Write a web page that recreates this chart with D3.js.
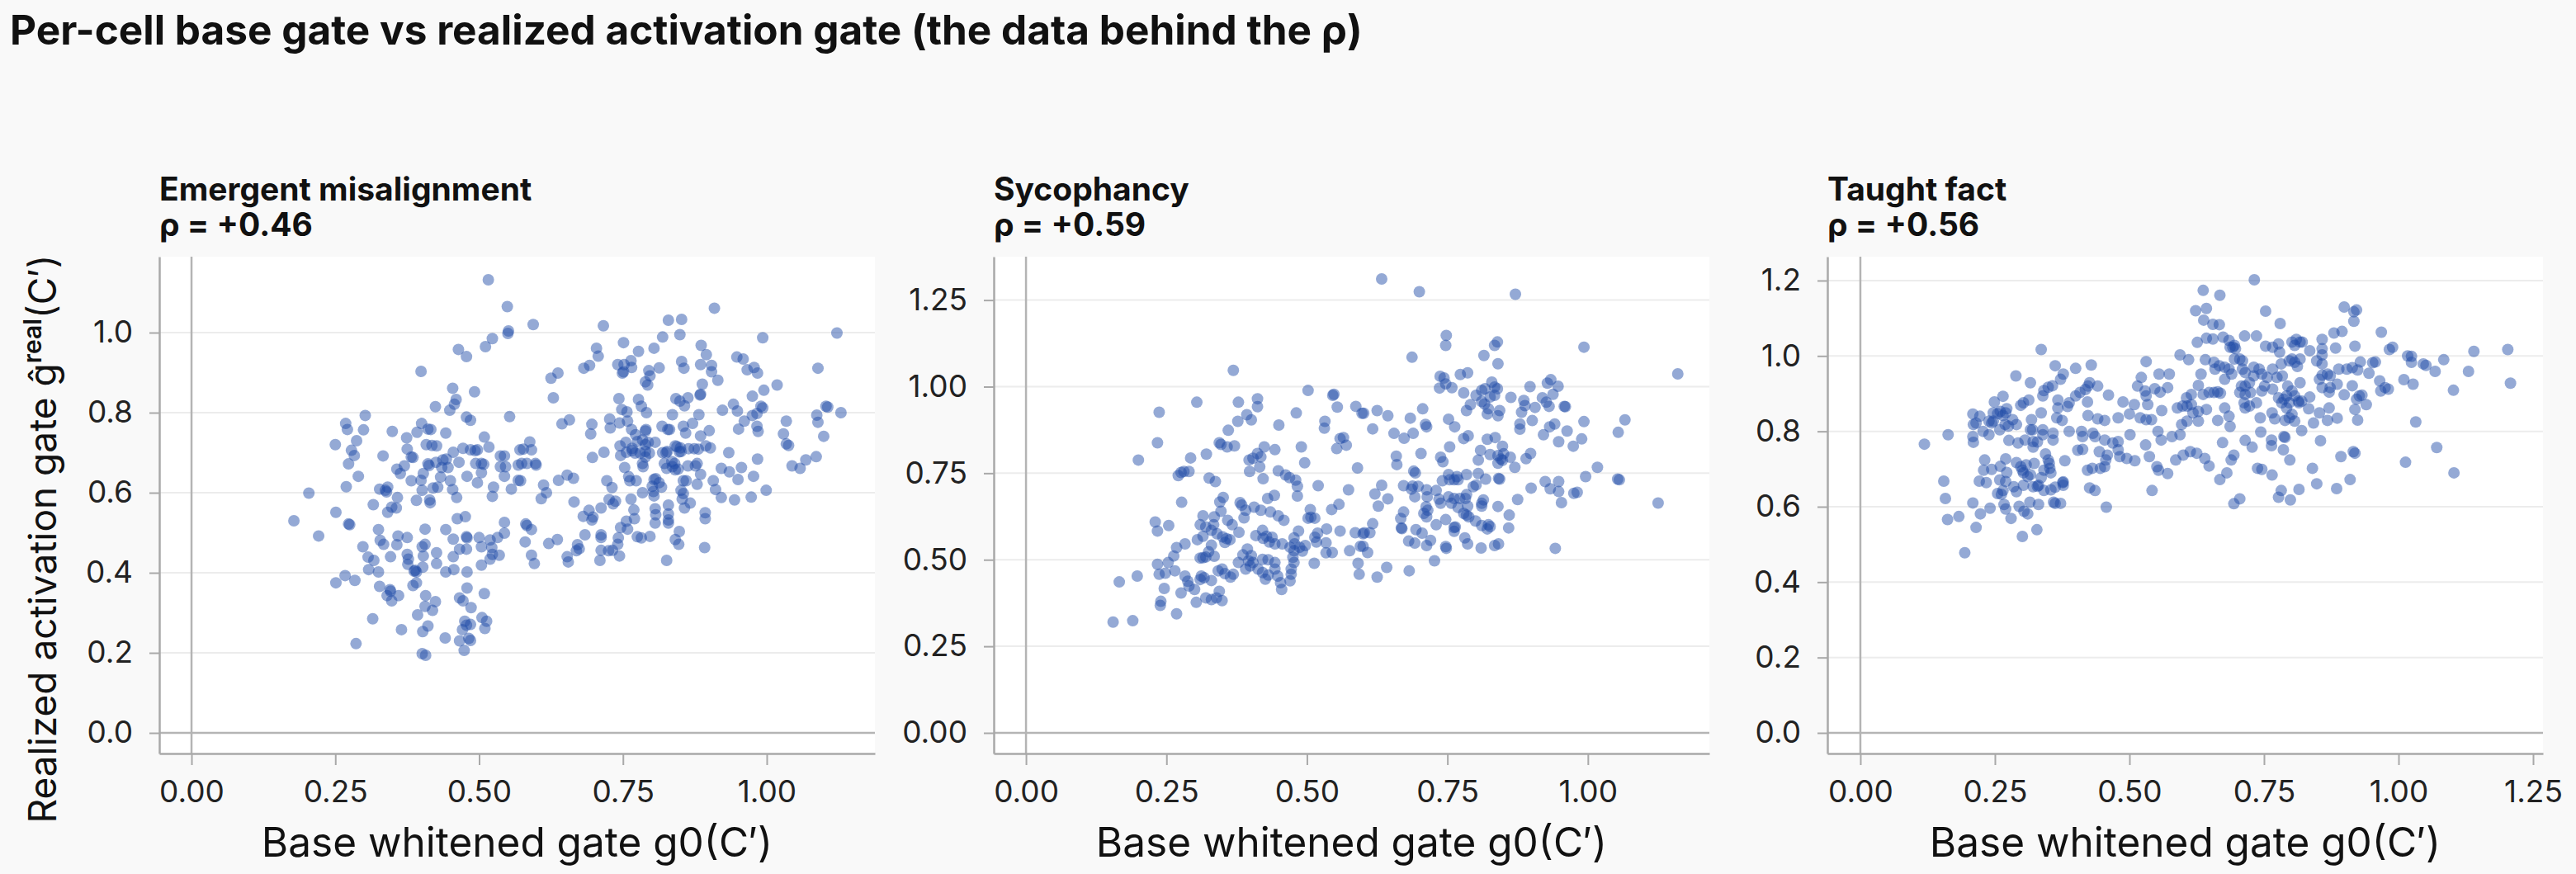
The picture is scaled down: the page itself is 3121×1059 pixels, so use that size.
<!DOCTYPE html>
<html>
<head>
<meta charset="utf-8">
<script src="https://cdn.jsdelivr.net/npm/d3@7"></script>
<style>
  html, body { margin: 0; padding: 0; background: #f9f9f9; }
  text { font-family: Inter, "Noto Sans", sans-serif; }
</style>
</head>
<body>
<script>
// ---------------- DATA ----------------
const chartTitle = "Per-cell base gate vs realized activation gate (the data behind the ρ)";
const panelTitles = ["Emergent misalignment", "Sycophancy", "Taught fact"];
const rhoLabels = ["ρ = +0.46", "ρ = +0.59", "ρ = +0.56"];
const xAxisTitle = "Base whitened gate g0(C′)";
const xTicks = [[0, 0.25, 0.5, 0.75, 1.0], [0, 0.25, 0.5, 0.75, 1.0], [0, 0.25, 0.5, 0.75, 1.0, 1.25]];
const yTicks = [[0, 0.2, 0.4, 0.6, 0.8, 1.0], [0, 0.25, 0.5, 0.75, 1.0, 1.25], [0, 0.2, 0.4, 0.6, 0.8, 1.0, 1.2]];
const xTickFormats = [".2f", ".2f", ".2f"];
const yTickFormats = [".1f", ".2f", ".1f"];
const xDomains = [[-0.056, 1.188], [-0.0574, 1.2162], [-0.0613, 1.2684]];
const yDomains = [[-0.0515, 1.1897], [-0.0596, 1.3754], [-0.0547, 1.2634]];

const emergentPoints = [
[0.516,1.132],[0.549,1.065],[0.550,0.998],[0.551,1.004],[0.523,0.985],[0.511,0.965],[0.464,0.958],[0.478,0.940],[0.399,0.903],[0.454,0.861],
[0.492,0.852],[0.460,0.833],[0.457,0.821],[0.449,0.806],[0.424,0.815],[0.478,0.789],[0.485,0.781],[0.553,0.790],[0.302,0.793],[0.268,0.773],
[0.271,0.758],[0.299,0.757],[0.287,0.730],[0.250,0.720],[0.278,0.706],[0.283,0.693],[0.273,0.672],[0.290,0.641],[0.269,0.615],[0.349,0.753],
[0.333,0.692],[0.374,0.737],[0.392,0.751],[0.400,0.773],[0.411,0.759],[0.416,0.758],[0.442,0.749],[0.375,0.709],[0.382,0.689],[0.385,0.688],
[0.408,0.720],[0.418,0.718],[0.426,0.717],[0.455,0.701],[0.472,0.711],[0.485,0.707],[0.493,0.705],[0.497,0.707],[0.509,0.739],[0.517,0.714],
[0.537,0.692],[0.544,0.692],[0.571,0.707],[0.370,0.667],[0.357,0.659],[0.363,0.648],[0.411,0.672],[0.413,0.668],[0.425,0.676],[0.437,0.682],
[0.443,0.684],[0.435,0.663],[0.446,0.663],[0.465,0.676],[0.494,0.673],[0.504,0.673],[0.508,0.671],[0.504,0.650],[0.497,0.625],[0.479,0.641],
[0.537,0.665],[0.546,0.665],[0.544,0.641],[0.568,0.669],[0.568,0.631],[0.525,0.614],[0.523,0.591],[0.556,0.609],[0.403,0.648],[0.399,0.631],
[0.382,0.630],[0.401,0.606],[0.420,0.612],[0.428,0.614],[0.433,0.639],[0.450,0.630],[0.454,0.608],[0.461,0.588],[0.391,0.581],[0.415,0.575],
[0.414,0.582],[0.327,0.609],[0.341,0.614],[0.339,0.602],[0.337,0.606],[0.358,0.588],[0.316,0.570],[0.348,0.564],[0.356,0.562],[0.341,0.551],
[0.204,0.599],[0.251,0.551],[0.178,0.530],[0.221,0.492],[0.273,0.522],[0.275,0.520],[0.462,0.535],[0.476,0.540],[0.544,0.526],[0.544,0.499],
[0.532,0.488],[0.519,0.482],[0.500,0.488],[0.504,0.465],[0.522,0.463],[0.523,0.446],[0.519,0.434],[0.535,0.444],[0.504,0.419],[0.442,0.508],
[0.455,0.484],[0.478,0.490],[0.479,0.487],[0.466,0.459],[0.478,0.459],[0.455,0.440],[0.479,0.402],[0.442,0.402],[0.456,0.408],[0.426,0.450],
[0.426,0.423],[0.406,0.509],[0.406,0.471],[0.401,0.465],[0.403,0.442],[0.375,0.488],[0.359,0.492],[0.357,0.470],[0.375,0.446],[0.377,0.434],
[0.376,0.421],[0.402,0.414],[0.389,0.406],[0.391,0.402],[0.387,0.404],[0.385,0.368],[0.391,0.375],[0.325,0.508],[0.328,0.481],[0.334,0.471],
[0.298,0.465],[0.307,0.439],[0.317,0.431],[0.308,0.408],[0.325,0.402],[0.346,0.440],[0.267,0.393],[0.251,0.375],[0.284,0.381],[0.327,0.366],
[0.345,0.358],[0.346,0.354],[0.340,0.343],[0.348,0.330],[0.360,0.343],[0.407,0.343],[0.406,0.316],[0.424,0.328],[0.419,0.306],[0.393,0.295],
[0.411,0.267],[0.402,0.253],[0.315,0.285],[0.365,0.258],[0.286,0.223],[0.479,0.362],[0.509,0.348],[0.466,0.337],[0.472,0.330],[0.486,0.313],
[0.505,0.288],[0.513,0.279],[0.510,0.261],[0.475,0.279],[0.478,0.269],[0.485,0.271],[0.471,0.258],[0.482,0.236],[0.485,0.231],[0.466,0.230],
[0.474,0.206],[0.441,0.237],[0.401,0.198],[0.407,0.194],
[0.594,1.020],[0.625,0.886],[0.637,0.899],[0.629,0.837],[0.644,0.772],[0.657,0.782],[0.588,0.727],[0.577,0.709],[0.591,0.707],[0.574,0.673],
[0.583,0.673],[0.598,0.673],[0.599,0.669],[0.572,0.630],[0.612,0.619],[0.617,0.600],[0.608,0.585],[0.638,0.631],[0.653,0.644],[0.664,0.636],
[0.665,0.577],[0.581,0.522],[0.591,0.508],[0.583,0.518],[0.580,0.477],[0.591,0.444],[0.596,0.423],[0.621,0.473],[0.636,0.483],[0.653,0.440],
[0.655,0.427],[0.671,0.470],[0.674,0.460],[0.669,0.455],[0.681,0.541],[0.691,0.556],[0.698,0.539],[0.696,0.532],[0.712,0.562],[0.684,0.495],
[0.712,0.495],[0.712,0.488],[0.712,0.456],[0.725,0.455],[0.732,0.456],[0.710,0.431],[0.744,0.442],[0.741,0.471],[0.742,0.487],[0.746,0.513],
[0.758,0.509],[0.756,0.529],[0.769,0.557],[0.770,0.535],[0.775,0.490],[0.782,0.487],[0.797,0.491],[0.737,0.579],[0.733,0.572],[0.726,0.583],
[0.722,0.630],[0.731,0.613],[0.764,0.584],[0.784,0.600],[0.804,0.592],[0.803,0.603],[0.806,0.560],[0.807,0.545],[0.806,0.524],[0.829,0.569],
[0.829,0.547],[0.829,0.532],[0.829,0.524],[0.841,0.483],[0.847,0.471],[0.848,0.503],[0.826,0.431],[0.857,0.562],[0.867,0.574],[0.893,0.550],
[0.893,0.535],[0.892,0.463],[0.853,0.584],[0.855,0.598],[0.784,0.673],[0.753,0.663],[0.760,0.640],[0.762,0.630],[0.773,0.630],[0.804,0.633],
[0.813,0.625],[0.817,0.614],[0.801,0.616],[0.807,0.635],[0.822,0.673],[0.826,0.661],[0.836,0.665],[0.841,0.657],[0.846,0.659],[0.835,0.678],
[0.840,0.673],[0.841,0.717],[0.850,0.712],[0.848,0.702],[0.855,0.630],[0.860,0.630],[0.851,0.606],[0.863,0.667],[0.864,0.710],[0.874,0.710],
[0.881,0.709],[0.879,0.673],[0.876,0.667],[0.885,0.646],[0.879,0.621],[0.902,0.712],[0.907,0.630],[0.911,0.608],[0.921,0.588],[0.944,0.582],
[0.921,0.661],[0.935,0.652],[0.950,0.633],[0.956,0.663],[0.934,0.700],[0.973,0.589],[0.977,0.641],[0.984,0.684],[0.999,0.606],[0.746,0.693],
[0.756,0.701],[0.766,0.705],[0.745,0.717],[0.755,0.726],[0.766,0.711],[0.771,0.699],[0.780,0.699],[0.789,0.703],[0.796,0.699],[0.789,0.689],
[0.785,0.665],[0.806,0.726],[0.775,0.728],[0.784,0.732],[0.789,0.720],[0.794,0.726],[0.765,0.758],[0.772,0.745],[0.789,0.754],[0.790,0.758],
[0.819,0.700],[0.825,0.700],[0.827,0.703],[0.818,0.766],[0.828,0.758],[0.831,0.758],[0.836,0.795],[0.844,0.715],[0.851,0.703],[0.855,0.766],
[0.859,0.749],[0.871,0.773],[0.882,0.795],[0.885,0.742],[0.900,0.755],[0.894,0.717],[0.923,0.806],[0.942,0.821],[0.949,0.804],[0.961,0.779],
[0.951,0.759],[0.975,0.793],[0.983,0.798],[0.990,0.816],[0.993,0.812],[0.983,0.766],[0.985,0.753],[0.975,0.841],[0.995,0.856],[1.018,0.869],
[1.034,0.779],[1.029,0.747],[1.034,0.722],[1.038,0.718],[1.044,0.667],[1.058,0.661],[1.068,0.682],[1.086,0.690],[1.087,0.794],[1.089,0.776],
[1.099,0.741],[1.103,0.816],[1.106,0.814],[1.129,0.800],[1.089,0.911],[1.122,0.999],[0.993,0.987],[0.909,1.061],[0.948,0.939],[0.959,0.934],
[0.966,0.907],[0.978,0.913],[0.984,0.899],[0.886,0.968],[0.895,0.945],[0.885,0.920],[0.904,0.918],[0.904,0.902],[0.915,0.881],[0.888,0.871],
[0.885,0.846],[0.884,0.844],[0.852,0.928],[0.856,0.911],[0.829,1.031],[0.852,1.033],[0.849,0.995],[0.819,0.989],[0.804,0.961],[0.813,0.912],
[0.795,0.905],[0.797,0.892],[0.789,0.877],[0.793,0.869],[0.777,0.953],[0.751,0.975],[0.764,0.930],[0.765,0.913],[0.741,0.920],[0.752,0.920],
[0.749,0.899],[0.751,0.902],[0.704,0.961],[0.707,0.941],[0.682,0.911],[0.692,0.918],[0.716,1.017],[0.743,0.835],[0.748,0.808],[0.757,0.802],
[0.777,0.833],[0.782,0.816],[0.791,0.800],[0.842,0.835],[0.849,0.829],[0.863,0.837],[0.857,0.817],[0.696,0.771],[0.694,0.747],[0.727,0.784],
[0.728,0.762],[0.744,0.774],[0.758,0.779],[0.717,0.701],[0.697,0.688]
];

const sycophancyPoints = [
[0.369,1.047],[0.502,0.989],[0.548,0.978],[0.546,0.975],[0.554,0.941],[0.587,0.943],[0.598,0.923],[0.304,0.955],[0.378,0.955],[0.412,0.965],
[0.412,0.942],[0.393,0.919],[0.401,0.904],[0.377,0.900],[0.360,0.874],[0.481,0.924],[0.450,0.889],[0.532,0.900],[0.531,0.880],[0.559,0.850],
[0.565,0.853],[0.553,0.821],[0.570,0.831],[0.490,0.826],[0.496,0.780],[0.590,0.765],[0.574,0.702],[0.237,0.926],[0.234,0.838],[0.200,0.788],
[0.344,0.838],[0.347,0.833],[0.358,0.826],[0.371,0.829],[0.293,0.794],[0.321,0.805],[0.271,0.743],[0.276,0.752],[0.281,0.755],[0.290,0.755],
[0.397,0.788],[0.404,0.793],[0.412,0.807],[0.424,0.826],[0.418,0.797],[0.416,0.768],[0.443,0.818],[0.398,0.755],[0.422,0.734],[0.449,0.757],
[0.462,0.745],[0.469,0.737],[0.480,0.730],[0.483,0.712],[0.483,0.684],[0.520,0.714],[0.326,0.736],[0.337,0.726],[0.277,0.666],[0.351,0.680],
[0.345,0.667],[0.347,0.640],[0.359,0.614],[0.430,0.677],[0.442,0.686],[0.381,0.665],[0.384,0.658],[0.391,0.643],[0.388,0.621],[0.406,0.652],
[0.418,0.643],[0.435,0.638],[0.449,0.627],[0.459,0.614],[0.315,0.627],[0.335,0.624],[0.334,0.601],[0.310,0.601],[0.320,0.595],[0.330,0.585],
[0.230,0.609],[0.234,0.583],[0.254,0.599],[0.283,0.546],[0.305,0.558],[0.315,0.568],[0.268,0.535],[0.263,0.511],[0.253,0.492],[0.367,0.601],
[0.379,0.579],[0.340,0.575],[0.350,0.566],[0.357,0.561],[0.363,0.558],[0.354,0.550],[0.330,0.542],[0.325,0.523],[0.335,0.510],[0.320,0.508],
[0.315,0.506],[0.310,0.505],[0.409,0.570],[0.421,0.585],[0.428,0.568],[0.438,0.565],[0.433,0.551],[0.422,0.562],[0.443,0.546],[0.456,0.546],
[0.477,0.563],[0.485,0.583],[0.478,0.546],[0.470,0.536],[0.477,0.526],[0.487,0.536],[0.497,0.541],[0.492,0.525],[0.502,0.620],[0.507,0.623],
[0.514,0.620],[0.506,0.645],[0.544,0.645],[0.557,0.660],[0.535,0.589],[0.519,0.577],[0.514,0.565],[0.517,0.551],[0.534,0.549],[0.559,0.583],
[0.586,0.578],[0.600,0.575],[0.534,0.520],[0.545,0.521],[0.576,0.526],[0.595,0.539],[0.591,0.490],[0.593,0.458],[0.513,0.490],[0.475,0.507],
[0.477,0.492],[0.472,0.473],[0.472,0.458],[0.470,0.439],[0.453,0.434],[0.455,0.414],[0.394,0.531],[0.386,0.514],[0.401,0.512],[0.396,0.497],
[0.404,0.492],[0.399,0.482],[0.378,0.492],[0.391,0.473],[0.421,0.501],[0.431,0.500],[0.443,0.492],[0.413,0.473],[0.421,0.463],[0.426,0.444],
[0.431,0.456],[0.443,0.473],[0.448,0.453],[0.369,0.458],[0.364,0.450],[0.354,0.460],[0.349,0.473],[0.342,0.468],[0.312,0.453],[0.310,0.443],
[0.317,0.448],[0.330,0.440],[0.283,0.453],[0.288,0.438],[0.290,0.424],[0.276,0.404],[0.265,0.468],[0.248,0.461],[0.237,0.458],[0.234,0.487],
[0.246,0.417],[0.240,0.380],[0.239,0.368],[0.268,0.344],[0.303,0.377],[0.330,0.385],[0.339,0.390],[0.344,0.409],[0.349,0.382],[0.320,0.390],
[0.300,0.414],[0.166,0.436],[0.198,0.453],[0.155,0.320],[0.190,0.324],
[0.633,1.311],[0.700,1.274],[0.871,1.267],[0.748,1.148],[0.747,1.119],[0.687,1.085],[0.815,1.090],[0.834,1.119],[0.839,1.129],[0.840,1.066],
[0.993,1.114],[1.160,1.037],[0.737,1.030],[0.744,1.025],[0.747,1.008],[0.758,0.997],[0.736,0.996],[0.773,1.035],[0.786,1.040],[0.779,0.982],
[0.801,0.975],[0.791,0.948],[0.811,0.989],[0.817,0.994],[0.829,1.013],[0.834,0.999],[0.839,0.994],[0.834,0.975],[0.826,0.970],[0.816,0.950],
[0.823,0.936],[0.821,0.921],[0.840,0.916],[0.843,0.931],[0.811,0.957],[0.784,0.931],[0.863,0.969],[0.886,0.960],[0.888,0.945],[0.882,0.926],
[0.906,0.940],[0.897,1.000],[0.928,1.010],[0.934,1.020],[0.947,1.001],[0.938,0.978],[0.919,0.968],[0.926,0.955],[0.931,0.943],[0.958,0.943],
[0.960,0.942],[0.901,0.902],[0.879,0.892],[0.879,0.877],[0.932,0.884],[0.941,0.892],[0.921,0.861],[0.963,0.872],[0.948,0.841],[0.974,0.828],
[0.993,0.899],[0.989,0.849],[1.054,0.868],[1.066,0.904],[1.017,0.767],[0.996,0.740],[1.053,0.733],[1.056,0.731],[1.125,0.664],[0.924,0.726],
[0.933,0.705],[0.948,0.726],[0.948,0.697],[0.953,0.665],[0.975,0.692],[0.981,0.695],[0.942,0.533],[0.899,0.707],[0.875,0.674],[0.860,0.629],
[0.859,0.592],[0.890,0.792],[0.898,0.807],[0.870,0.767],[0.862,0.796],[0.850,0.806],[0.848,0.787],[0.840,0.801],[0.840,0.779],[0.845,0.791],
[0.826,0.804],[0.809,0.816],[0.805,0.788],[0.821,0.848],[0.835,0.853],[0.848,0.828],[0.779,0.850],[0.787,0.858],[0.754,0.826],[0.752,0.906],
[0.763,0.884],[0.738,0.796],[0.742,0.783],[0.703,0.807],[0.659,0.799],[0.660,0.775],[0.706,0.936],[0.711,0.891],[0.713,0.884],[0.684,0.909],
[0.689,0.865],[0.673,0.851],[0.655,0.865],[0.644,0.916],[0.625,0.931],[0.617,0.878],[0.601,0.923],[0.633,0.715],[0.621,0.690],[0.627,0.655],
[0.644,0.676],[0.617,0.604],[0.602,0.578],[0.612,0.578],[0.608,0.521],[0.600,0.539],[0.625,0.450],[0.642,0.478],[0.682,0.468],[0.727,0.497],
[0.672,0.638],[0.667,0.619],[0.668,0.592],[0.669,0.590],[0.681,0.554],[0.692,0.548],[0.694,0.587],[0.705,0.577],[0.672,0.714],[0.688,0.713],
[0.686,0.704],[0.692,0.682],[0.698,0.712],[0.693,0.751],[0.690,0.756],[0.713,0.702],[0.714,0.682],[0.712,0.653],[0.715,0.643],[0.713,0.624],
[0.708,0.634],[0.730,0.700],[0.735,0.675],[0.738,0.663],[0.747,0.616],[0.730,0.601],[0.720,0.556],[0.713,0.541],[0.747,0.538],[0.748,0.533],
[0.741,0.728],[0.752,0.746],[0.754,0.731],[0.762,0.731],[0.769,0.731],[0.784,0.746],[0.752,0.682],[0.757,0.663],[0.762,0.677],[0.772,0.677],
[0.782,0.677],[0.769,0.651],[0.784,0.688],[0.762,0.593],[0.762,0.582],[0.764,0.595],[0.779,0.634],[0.788,0.624],[0.784,0.629],[0.786,0.655],
[0.781,0.563],[0.786,0.546],[0.800,0.612],[0.811,0.599],[0.821,0.589],[0.826,0.596],[0.823,0.601],[0.810,0.534],[0.834,0.541],[0.841,0.546],
[0.811,0.655],[0.814,0.673],[0.811,0.663],[0.801,0.716],[0.818,0.733],[0.796,0.711],[0.805,0.749],[0.840,0.654],[0.841,0.735],[0.843,0.733],
[0.767,0.740]
];

const taughtFactPoints = [
[0.119,0.766],[0.163,0.791],[0.155,0.668],[0.158,0.622],[0.162,0.566],[0.183,0.574],[0.194,0.478],[0.215,0.545],[0.209,0.610],[0.223,0.581],
[0.241,0.596],[0.221,0.668],[0.234,0.664],[0.231,0.724],[0.229,0.697],[0.244,0.699],[0.209,0.846],[0.210,0.818],[0.215,0.822],[0.222,0.840],
[0.209,0.786],[0.210,0.771],[0.228,0.800],[0.239,0.791],[0.249,0.878],[0.265,0.893],[0.247,0.849],[0.255,0.847],[0.260,0.853],[0.272,0.860],
[0.265,0.842],[0.247,0.827],[0.244,0.822],[0.239,0.827],[0.259,0.804],[0.269,0.818],[0.275,0.814],[0.283,0.831],[0.290,0.818],[0.270,0.849],
[0.289,0.947],[0.298,0.869],[0.303,0.876],[0.313,0.883],[0.316,0.929],[0.318,0.831],[0.320,0.804],[0.316,0.804],[0.276,0.776],[0.293,0.769],
[0.306,0.777],[0.321,0.758],[0.329,0.772],[0.339,0.791],[0.339,0.804],[0.336,0.849],[0.336,1.017],[0.362,0.974],[0.377,0.952],[0.372,0.938],
[0.357,0.921],[0.349,0.917],[0.341,0.908],[0.339,0.894],[0.400,0.967],[0.429,0.976],[0.426,0.929],[0.423,0.920],[0.418,0.911],[0.441,0.920],
[0.408,0.903],[0.400,0.894],[0.367,0.883],[0.367,0.862],[0.385,0.866],[0.388,0.876],[0.365,0.836],[0.375,0.829],[0.388,0.800],[0.358,0.795],
[0.358,0.777],[0.422,0.878],[0.423,0.842],[0.441,0.833],[0.454,0.829],[0.461,0.896],[0.488,0.878],[0.509,0.871],[0.500,0.846],[0.479,0.836],
[0.411,0.800],[0.413,0.786],[0.413,0.752],[0.432,0.795],[0.436,0.786],[0.454,0.777],[0.469,0.769],[0.479,0.773],[0.479,0.751],[0.482,0.733],
[0.501,0.791],[0.444,0.746],[0.459,0.737],[0.456,0.724],[0.454,0.706],[0.446,0.702],[0.495,0.728],[0.510,0.722],[0.422,0.697],[0.431,0.702],
[0.426,0.650],[0.436,0.643],[0.457,0.599],[0.380,0.722],[0.376,0.664],[0.377,0.657],[0.362,0.652],[0.352,0.702],[0.341,0.697],[0.336,0.677],
[0.354,0.690],[0.344,0.740],[0.349,0.724],[0.351,0.715],[0.323,0.715],[0.321,0.773],[0.290,0.717],[0.298,0.706],[0.301,0.697],[0.303,0.690],
[0.308,0.711],[0.311,0.680],[0.316,0.685],[0.270,0.727],[0.260,0.707],[0.259,0.671],[0.270,0.667],[0.272,0.691],[0.285,0.653],[0.290,0.640],
[0.303,0.657],[0.321,0.653],[0.329,0.654],[0.331,0.657],[0.341,0.643],[0.354,0.645],[0.255,0.635],[0.262,0.633],[0.265,0.643],[0.267,0.606],
[0.270,0.594],[0.280,0.569],[0.295,0.601],[0.304,0.588],[0.315,0.612],[0.311,0.581],[0.331,0.606],[0.301,0.521],[0.328,0.539],[0.359,0.612],
[0.362,0.609],[0.372,0.609],[0.377,0.666],[0.404,0.750],[0.531,0.985],[0.522,0.943],[0.515,0.920],[0.529,0.907],[0.531,0.894],[0.534,0.871],
[0.547,0.913],[0.557,0.904],[0.571,0.916],[0.555,0.952],[0.574,0.952],[0.560,0.855],[0.520,0.836],[0.531,0.831],[0.541,0.831],[0.553,0.800],
[0.559,0.777],[0.530,0.764],[0.537,0.733],[0.551,0.706],[0.554,0.697],[0.571,0.688],[0.542,0.643],[0.579,0.786],[0.594,0.791],[0.597,0.818],
[0.589,0.862],[0.599,0.867],[0.607,0.867],[0.615,0.871],[0.606,0.889],[0.615,0.898],[0.618,0.849],[0.607,0.827],[0.628,0.827],[0.643,0.858],
[0.628,0.853],[0.594,1.003],[0.610,0.990],[0.633,0.952],[0.628,0.922],[0.637,0.898],[0.648,0.903],[0.641,0.990],[0.626,1.036],[0.643,1.047],
[0.638,1.095],[0.623,1.120],[0.643,1.126],[0.637,1.174],[0.586,0.724],[0.600,0.737],[0.613,0.746],[0.625,0.742],[0.640,0.728],[0.648,0.708],
[0.732,1.202],[0.668,1.161],[0.655,1.084],[0.667,1.083],[0.753,1.119],[0.780,1.086],[0.655,1.045],[0.674,1.050],[0.685,1.041],[0.695,1.028],
[0.687,1.023],[0.697,1.019],[0.714,1.053],[0.736,1.053],[0.753,1.026],[0.766,1.023],[0.777,1.032],[0.779,1.010],[0.802,1.037],[0.810,1.044],
[0.817,1.037],[0.807,1.028],[0.821,1.037],[0.835,1.014],[0.858,1.044],[0.858,1.019],[0.858,1.003],[0.883,1.021],[0.880,1.061],[0.895,1.065],
[0.899,1.130],[0.917,1.117],[0.922,1.122],[0.917,1.092],[0.919,1.026],[0.968,1.063],[0.983,1.017],[0.989,1.023],[0.848,0.987],[0.858,0.979],
[0.868,0.952],[0.873,0.947],[0.889,0.965],[0.904,0.965],[0.914,0.969],[0.924,0.963],[0.929,0.984],[0.952,0.982],[0.957,0.984],[0.945,0.954],
[1.010,0.937],[1.027,0.925],[0.965,0.934],[0.967,0.907],[0.975,0.916],[0.981,0.912],[1.017,1.000],[1.024,0.999],[1.024,0.983],[1.046,0.979],
[1.051,0.975],[1.068,0.959],[1.084,0.990],[1.102,0.909],[1.130,0.959],[1.140,1.012],[1.203,1.017],[1.208,0.928],[1.032,0.825],[1.071,0.757],
[1.013,0.718],[1.103,0.690],[0.873,0.916],[0.886,0.925],[0.899,0.897],[0.914,0.921],[0.927,0.894],[0.922,0.885],[0.932,0.896],[0.940,0.871],
[0.919,0.858],[0.924,0.830],[0.871,0.904],[0.858,0.916],[0.853,0.938],[0.858,0.949],[0.835,0.891],[0.833,0.860],[0.853,0.849],[0.871,0.862],
[0.886,0.835],[0.868,0.829],[0.842,0.822],[0.855,0.775],[0.817,0.929],[0.820,0.880],[0.814,0.880],[0.802,0.992],[0.807,0.983],[0.817,0.992],
[0.812,0.972],[0.797,0.987],[0.782,0.979],[0.784,0.947],[0.774,0.943],[0.766,0.965],[0.756,0.943],[0.794,0.920],[0.802,0.907],[0.792,0.894],
[0.807,0.894],[0.797,0.876],[0.787,0.885],[0.777,0.889],[0.766,0.912],[0.751,0.920],[0.746,0.907],[0.723,0.929],[0.715,0.920],[0.708,0.920],
[0.705,0.903],[0.715,0.898],[0.725,0.903],[0.731,0.947],[0.741,0.965],[0.746,0.952],[0.731,0.970],[0.715,0.956],[0.710,0.965],[0.695,0.992],
[0.705,0.992],[0.710,0.987],[0.692,1.023],[0.677,0.970],[0.685,0.965],[0.690,0.952],[0.677,0.938],[0.657,0.983],[0.667,0.974],[0.659,0.965],
[0.657,0.903],[0.664,0.905],[0.669,0.901],[0.677,0.862],[0.685,0.840],[0.687,0.813],[0.664,0.829],[0.713,0.876],[0.723,0.867],[0.715,0.862],
[0.736,0.876],[0.743,0.836],[0.744,0.798],[0.765,0.849],[0.770,0.833],[0.789,0.829],[0.797,0.836],[0.807,0.827],[0.802,0.845],[0.783,0.876],
[0.792,0.862],[0.815,0.876],[0.820,0.802],[0.673,0.770],[0.715,0.776],[0.728,0.758],[0.694,0.737],[0.689,0.724],[0.764,0.777],[0.764,0.762],
[0.787,0.786],[0.789,0.784],[0.786,0.751],[0.798,0.724],[0.840,0.702],[0.848,0.661],[0.893,0.733],[0.916,0.746],[0.919,0.742],[0.910,0.672],
[0.885,0.648],[0.815,0.646],[0.782,0.643],[0.777,0.625],[0.799,0.618],[0.705,0.621],[0.694,0.608],[0.738,0.702],[0.746,0.699],[0.765,0.684],
[0.668,0.672],[0.681,0.690]
];

const panelPoints = [emergentPoints, sycophancyPoints, taughtFactPoints];

// ---------------- LAYOUT ----------------
const W = 3121, H = 1059;
const plotLefts = [193, 1204, 2214];
const plotW = 867, plotTop = 311, plotBottom = 913;
const ink = "#111111";
const axisGray = "#a9a9a9";

const svg = d3.select("body").append("svg")
  .attr("width", W).attr("height", H)
  .style("display", "block");

svg.append("rect").attr("width", W).attr("height", H).attr("fill", "#f9f9f9");

svg.append("text")
  .attr("x", 12).attr("y", 54)
  .attr("font-size", 49.5).attr("font-weight", 700).attr("fill", ink)
  .text(chartTitle);

panelPoints.forEach((pts, i) => {
  const L = plotLefts[i], R = L + plotW;
  const x = d3.scaleLinear().domain(xDomains[i]).range([L, R]);
  const y = d3.scaleLinear().domain(yDomains[i]).range([plotBottom, plotTop]);
  const g = svg.append("g");

  g.append("rect").attr("x", L).attr("y", plotTop)
    .attr("width", plotW).attr("height", plotBottom - plotTop).attr("fill", "#ffffff");

  // horizontal gridlines
  g.selectAll("line.grid").data(yTicks[i].filter(t => t !== 0)).join("line")
    .attr("class", "grid")
    .attr("x1", L).attr("x2", R)
    .attr("y1", d => y(d)).attr("y2", d => y(d))
    .attr("stroke", "#ececec").attr("stroke-width", 2);

  // zero reference lines
  g.append("line").attr("x1", L).attr("x2", R).attr("y1", y(0)).attr("y2", y(0))
    .attr("stroke", "#b4b4b4").attr("stroke-width", 2.5);
  g.append("line").attr("x1", x(0)).attr("x2", x(0)).attr("y1", plotTop).attr("y2", plotBottom)
    .attr("stroke", "#b4b4b4").attr("stroke-width", 2.5);

  // points
  g.append("g").selectAll("circle").data(pts).join("circle")
    .attr("cx", d => x(d[0])).attr("cy", d => y(d[1]))
    .attr("r", 7)
    .attr("fill", "#1f4ba7").attr("fill-opacity", 0.48);

  // axes
  const ax = g.append("g").attr("transform", `translate(0,${plotBottom})`)
    .call(d3.axisBottom(x).tickValues(xTicks[i]).tickFormat(d3.format(xTickFormats[i]))
      .tickSize(14).tickSizeOuter(0).tickPadding(19));
  const ay = g.append("g").attr("transform", `translate(${L},0)`)
    .call(d3.axisLeft(y).tickValues(yTicks[i]).tickFormat(d3.format(yTickFormats[i]))
      .tickSize(12).tickSizeOuter(0).tickPadding(20));
  [ax, ay].forEach(a => {
    a.select(".domain").attr("stroke", axisGray).attr("stroke-width", 2.5);
    a.selectAll(".tick line").attr("stroke", axisGray).attr("stroke-width", 2);
    a.selectAll(".tick text").attr("fill", "#222").attr("font-size", 37)
      .attr("font-family", "Inter, 'Noto Sans', sans-serif");
  });

  // panel titles
  g.append("text").attr("x", L).attr("y", 243)
    .attr("font-size", 39).attr("font-weight", 700).attr("fill", ink)
    .text(panelTitles[i]);
  g.append("text").attr("x", L).attr("y", 286)
    .attr("font-size", 39).attr("font-weight", 700).attr("fill", ink)
    .text(rhoLabels[i]);

  // x axis title
  g.append("text").attr("x", (L + R) / 2).attr("y", 1038)
    .attr("text-anchor", "middle").attr("font-size", 49.5).attr("fill", ink)
    .text(xAxisTitle);
});

// y axis title (left panel only)
const yt = svg.append("text")
  .attr("transform", "translate(68,653) rotate(-90)")
  .attr("text-anchor", "middle").attr("font-size", 46).attr("fill", ink);
yt.append("tspan").text("Realized activation gate ĝ");
yt.append("tspan").attr("font-size", 30).attr("font-weight", 600).attr("dy", -18).text("real");
yt.append("tspan").attr("dy", 18).text("(C′)");
</script>
</body>
</html>
